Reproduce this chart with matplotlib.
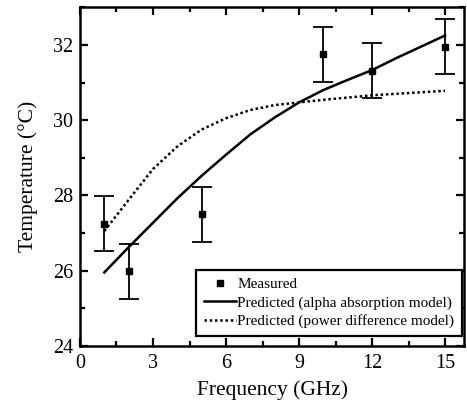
# ================================================================
# 0. Section: IMPORTS
# ================================================================
import matplotlib
matplotlib.use("Agg")
from matplotlib import pyplot as plt
from matplotlib.lines import Line2D
from matplotlib.ticker import MultipleLocator


# ================================================================
# 1. Section: DATA
# ================================================================
MEAS_FREQ = [1, 2, 5, 10, 12, 15]
MEAS_TEMP = [27.25, 25.98, 27.5, 31.75, 31.31, 31.95]
MEAS_ERR = [0.73, 0.73, 0.73, 0.73, 0.73, 0.73]

MODEL_FREQ = [1, 2, 3, 4, 5, 6, 7, 8, 9, 10, 11, 12, 13, 14, 15]
ALPHA_TEMP = [25.95, 26.62, 27.27, 27.92, 28.52, 29.08, 29.62, 30.07,
              30.47, 30.80, 31.07, 31.33, 31.65, 31.95, 32.25]
POWER_TEMP = [27.05, 27.88, 28.70, 29.30, 29.75, 30.05, 30.27, 30.40,
              30.47, 30.54, 30.60, 30.66, 30.70, 30.74, 30.78]

LABELS = [
    "Measured",
    "Predicted (alpha absorption model)",
    "Predicted (power difference model)",
]


# ================================================================
# 2. Section: PLOT
# ================================================================
plt.rcParams["font.family"] = ["Liberation Serif", "DejaVu Serif"]

DOTS = (0, (1, 1.1))

fig = plt.figure(figsize=(4.67, 4.07), dpi=100)
ax = fig.add_axes([0.1713, 0.1506, 0.8233, 0.8314])

ax.errorbar(
    MEAS_FREQ, MEAS_TEMP, yerr=MEAS_ERR,
    fmt="s", color="black", markersize=4.5, capsize=7,
    elinewidth=1.3, capthick=1.3, zorder=3,
)
ax.plot(MODEL_FREQ, ALPHA_TEMP, color="black", lw=1.8)
ax.plot(MODEL_FREQ, POWER_TEMP, color="black", lw=1.8, linestyle=DOTS)

ax.set_xlim(0, 15.8)
ax.set_ylim(24, 33)

ax.xaxis.set_major_locator(MultipleLocator(3))
ax.xaxis.set_minor_locator(MultipleLocator(1.5))
ax.yaxis.set_major_locator(MultipleLocator(2))
ax.yaxis.set_minor_locator(MultipleLocator(1))

ax.tick_params(which="both", direction="in", top=True, right=True,
               width=1.6, labelsize=14.5)
ax.tick_params(axis="x", pad=6)
ax.tick_params(axis="y", pad=5)
ax.tick_params(which="major", length=6)
ax.tick_params(which="minor", length=3.5)

for sp in ax.spines.values():
    sp.set_linewidth(1.8)

ax.set_xlabel("Frequency (GHz)", fontsize=15.5, labelpad=5)
ax.set_ylabel("Temperature (\u00b0C)", fontsize=15.5, labelpad=11)

# legend: marker only for the measured points, no error bar glyph
handles = [
    Line2D([], [], marker="s", ls="none", color="black", markersize=4),
    Line2D([], [], color="black", lw=1.8),
    Line2D([], [], color="black", lw=1.8, linestyle=DOTS),
]
leg = ax.legend(
    handles, LABELS,
    loc="lower right", bbox_to_anchor=(0.9935, 0.0287), borderaxespad=0,
    fontsize=11.0, frameon=True, fancybox=False, edgecolor="black",
    handlelength=2.1, handletextpad=0.1, labelspacing=0.3, borderpad=0.5,
)
leg.get_frame().set_linewidth(1.6)
leg.get_frame().set_alpha(1)

fig.savefig("out.png", dpi=100)
